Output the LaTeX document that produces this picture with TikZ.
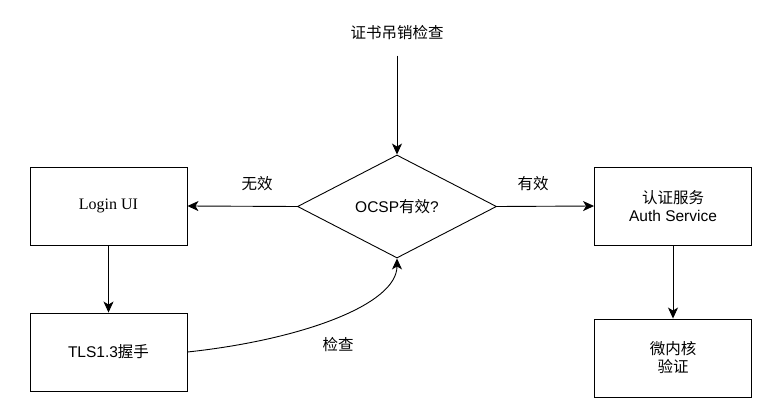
\documentclass[tikz,border=0pt]{standalone}
\usepackage{fontspec}
\usepackage{tikz}
\usetikzlibrary{shapes.geometric,arrows.meta,positioning}
\newfontfamily\labelfont{Liberation Sans}
\newfontfamily\seriffont{Liberation Serif}
\newfontfamily\cjk{Noto Sans CJK SC}

\begin{document}
\begin{tikzpicture}[x=1pt, y=-1pt,
    box/.style={rectangle, draw=black, fill=white, line width=0.9pt, minimum width=157pt, minimum height=78pt, font=\labelfont\fontsize{15.5}{18}\selectfont, align=center},
    decision/.style={diamond, draw=black, fill=white, line width=0.9pt, minimum width=199pt, minimum height=103pt, inner sep=0pt, font=\labelfont\fontsize{15.5}{18}\selectfont},
    flow/.style={-{Stealth[length=11pt, width=10pt, inset=3pt]}, line width=0.9pt},
    lbl/.style={font=\labelfont\fontsize{15.5}{18}\selectfont}
]
    \useasboundingbox (0,0) rectangle (778,409);

    % start and decision
    \node[lbl] (start) at (397,33) {\cjk 证书吊销检查};
    \node[decision] (ocsp) at (397,206.5) {OCSP{\cjk 有效}?};

    % left column
    \node[box, font=\seriffont\fontsize{16}{18}\selectfont] (login) at (108.5,206) {Login UI};
    \node[box] (tls) at (108.5,352) {TLS1.3{\cjk 握手}};

    % right column
    \node[box] (auth) at (673,206) {{\cjk 认证服务}\\Auth Service};
    \node[box] (kernel) at (673,358) {{\cjk 微内核}\\{\cjk 验证}};

    % connectors
    \draw[flow] (start.south) ++(0,12) -- (ocsp.north);
    \draw[flow] (ocsp.west) -- (login.east);
    \draw[flow] (ocsp.east) -- (auth.west);
    \draw[flow] (login.south) -- (tls.north);
    \draw[flow] (auth.south) -- (kernel.north);
    \draw[flow] (tls.east) .. controls (300,340) and (397,305) .. (ocsp.south);

    \node[lbl] (invalid) at (257,184) {\cjk 无效};
    \node[lbl] (valid) at (533,184) {\cjk 有效};
    \node[lbl] (check) at (338,345) {\cjk 检查};
\end{tikzpicture}
\end{document}
